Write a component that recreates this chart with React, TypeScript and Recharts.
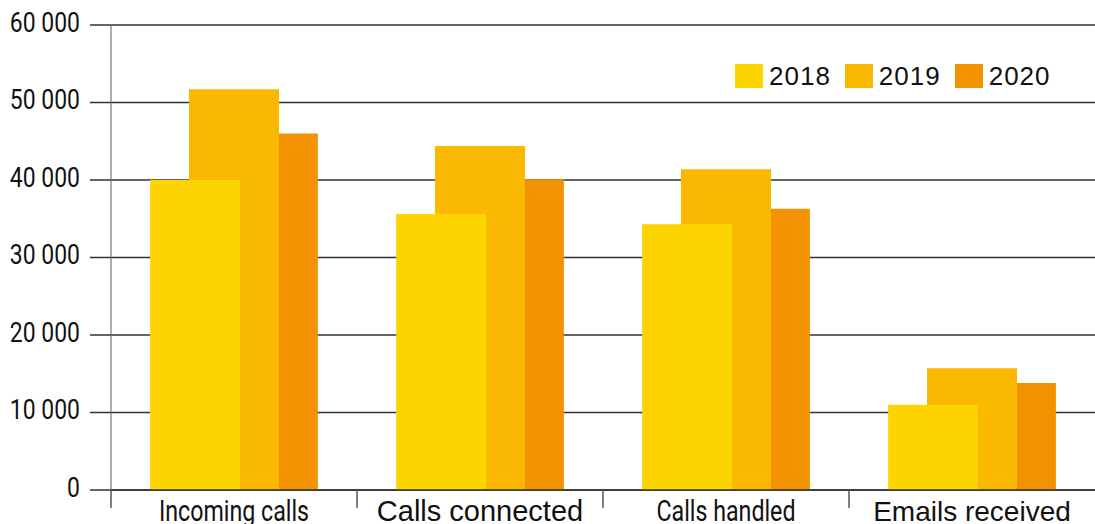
import React from 'react';
import { BarChart, Bar, XAxis, YAxis, CartesianGrid } from 'recharts';

const categories = ['Incoming calls', 'Calls connected', 'Calls handled', 'Emails received'];
const years = ['2018', '2019', '2020'];
const values2018 = [40000, 35600, 34300, 11000];
const values2019 = [51700, 44400, 41400, 15700];
const values2020 = [46000, 40100, 36300, 13800];
const yTicks = [0, 10000, 20000, 30000, 40000, 50000, 60000];

const COLORS: Record<string, string> = { '2018': '#FDD300', '2019': '#FAB800', '2020': '#F29200' };
const CONDENSED = 'Roboto, "Liberation Sans", sans-serif';
const REGULAR = '"Liberation Sans", Arial, sans-serif';

// each series sits on its own hidden numeric x axis, shifted by a fraction of a category
const SHIFT = 0.158;

const data = categories.map((name, i) => ({
  name,
  pos: i,
  y2018: values2018[i],
  y2019: values2019[i],
  y2020: values2020[i],
}));

const fmt = (v: number) => String(v).replace(/\B(?=(\d{3})+(?!\d))/g, ' ');

// no condensed face installed: squeeze Roboto horizontally instead
const YTick = (props: any) => {
  const { x, y, payload } = props;
  return (
    <g transform={`translate(${x},${y - 3}) scale(0.85,1)`}>
      <text x={0} y={0} dy="0.36em" textAnchor="end" fontFamily={CONDENSED} fontSize={27} fill="#111">
        {fmt(payload.value)}
      </text>
    </g>
  );
};

const XTick = (props: any) => {
  const { x, y, payload } = props;
  const v = payload.value as number;
  if (!Number.isInteger(v)) {
    return <line x1={x} x2={x} y1={y} y2={y + 18} stroke="#555" strokeWidth={1.5} />;
  }
  const narrow = v === 0 || v === 2;
  if (narrow) {
    return (
      <g transform={`translate(${x},${y + 31}) scale(0.8,1)`}>
        <text x={0} y={0} textAnchor="middle" fontFamily={CONDENSED} fontSize={29} fill="#111">
          {categories[v]}
        </text>
      </g>
    );
  }
  return (
    <text x={x} y={y + 31} textAnchor="middle" fontFamily={REGULAR} fontSize={v === 1 ? 29 : 28} fill="#111">
      {categories[v]}
    </text>
  );
};

const Legend = () => (
  <div style={{ position: 'absolute', left: 735, top: 64, display: 'flex', alignItems: 'center' }}>
    {years.map(y => (
      <div key={y} style={{ display: 'flex', alignItems: 'center', marginRight: 14 }}>
        <span style={{ display: 'inline-block', width: 28, height: 24, background: COLORS[y] }} />
        <span style={{ marginLeft: 6, fontFamily: REGULAR, fontSize: 26, lineHeight: '24px', letterSpacing: 1, color: '#111' }}>
          {y}
        </span>
      </div>
    ))}
  </div>
);

export default function App() {
  return (
    <div style={{ position: 'absolute', left: 0, top: 0, width: 1095, height: 524, background: '#fff' }}>
      <BarChart width={1095} height={524} data={data} margin={{ top: 25, right: 0, left: 0, bottom: 0 }}>
        <CartesianGrid horizontal vertical={false} stroke="#333" strokeWidth={1.5} xAxisId="labels" />
        <YAxis
          width={111}
          domain={[0, 60000]}
          ticks={yTicks}
          interval={0}
          tickSize={21}
          tickMargin={10}
          tickLine={{ stroke: '#333', strokeWidth: 1.5 }}
          axisLine={{ stroke: '#777', strokeWidth: 1.2 }}
          tick={<YTick />}
        />
        <XAxis
          xAxisId="labels"
          type="number"
          dataKey="pos"
          domain={[-0.5, 3.5]}
          allowDataOverflow
          ticks={[-0.5, 0, 0.5, 1, 1.5, 2, 2.5, 3]}
          interval={0}
          height={34}
          tickLine={false}
          tickSize={0}
          tickMargin={0}
          axisLine={{ stroke: '#333', strokeWidth: 1.5 }}
          tick={<XTick />}
        />
        <XAxis xAxisId="x2018" type="number" dataKey="pos" hide allowDataOverflow
          domain={[-0.5 + SHIFT, 3.5 + SHIFT]} ticks={[0, 1, 2, 3]} />
        <XAxis xAxisId="x2019" type="number" dataKey="pos" hide allowDataOverflow
          domain={[-0.5, 3.5]} ticks={[0, 1, 2, 3]} />
        <XAxis xAxisId="x2020" type="number" dataKey="pos" hide allowDataOverflow
          domain={[-0.5 - SHIFT, 3.5 - SHIFT]} ticks={[0, 1, 2, 3]} />
        <Bar dataKey="y2020" name="2020" xAxisId="x2020" fill={COLORS['2020']} barSize={90} isAnimationActive={false} />
        <Bar dataKey="y2019" name="2019" xAxisId="x2019" fill={COLORS['2019']} barSize={90} isAnimationActive={false} />
        <Bar dataKey="y2018" name="2018" xAxisId="x2018" fill={COLORS['2018']} barSize={90} isAnimationActive={false} />
      </BarChart>
      <Legend />
    </div>
  );
}
